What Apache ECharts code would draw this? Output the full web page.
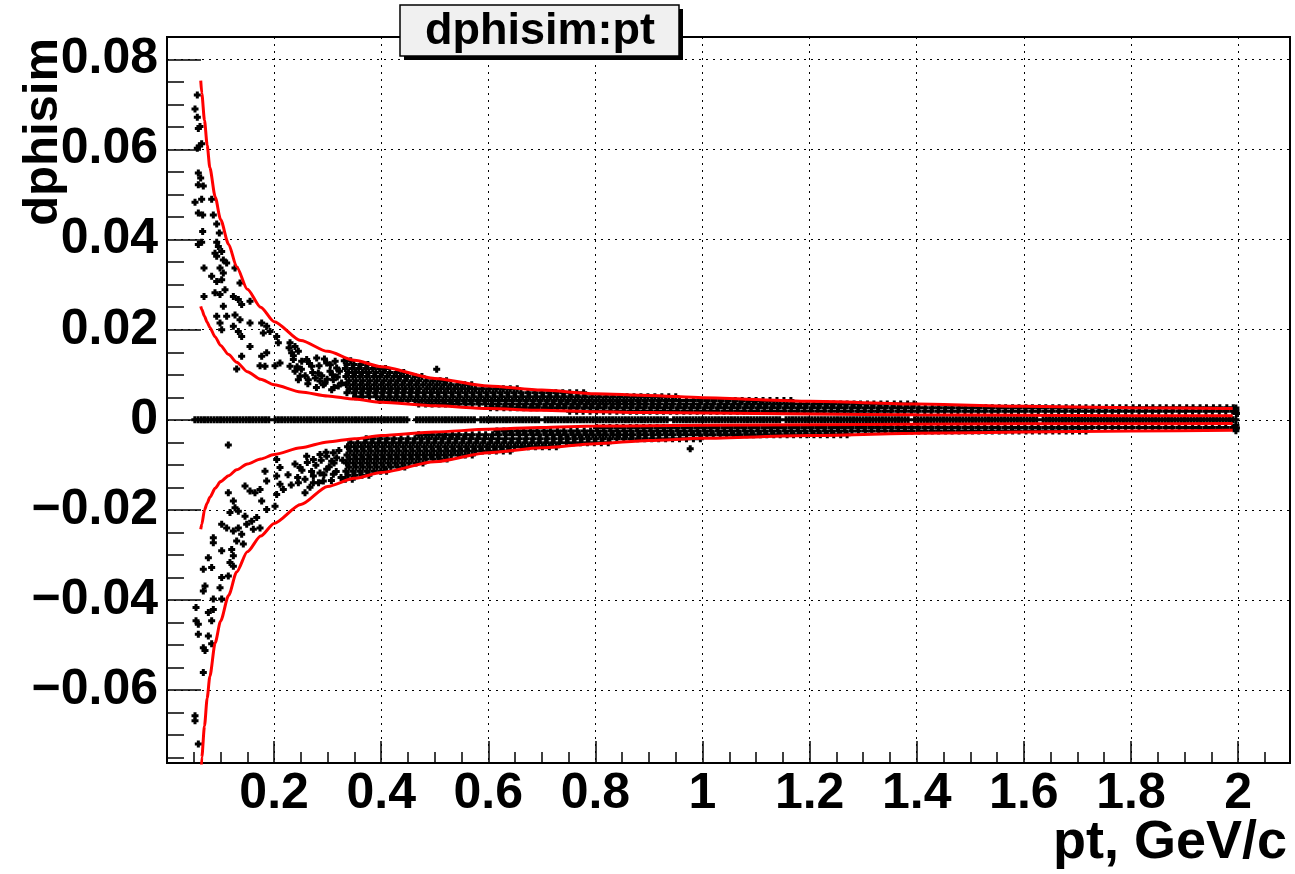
<!DOCTYPE html>
<html>
<head>
<meta charset="utf-8">
<script src="https://cdn.jsdelivr.net/npm/echarts@6/dist/echarts.min.js"></script>
<style>
html, body { margin: 0; padding: 0; background: #fff; }
#chart { width: 1295px; height: 874px; }
</style>
</head>
<body>
<div id="chart"></div>
<script>
// dphisim vs pt scatter with the four selection curves

// pt positions where the selection curves are sampled
const curvePt = [0.063, 0.065, 0.07, 0.075, 0.08, 0.09, 0.10, 0.115, 0.13, 0.15, 0.175, 0.2, 0.25, 0.3, 0.35, 0.4, 0.5, 0.6, 0.7, 0.8, 0.9, 1.0, 1.2, 1.4, 1.6, 1.8, 1.99];
const upperOuter = [0.0753, 0.0725, 0.0665, 0.0610, 0.0560, 0.0495, 0.0445, 0.0390, 0.0340, 0.0290, 0.0250, 0.0218, 0.0176, 0.0152, 0.0132, 0.0118, 0.0092, 0.0075, 0.0066, 0.0058, 0.0054, 0.0049, 0.0041, 0.0035, 0.0030, 0.0027, 0.0025];
const upperInner = [0.0252, 0.0245, 0.0230, 0.0217, 0.0205, 0.0184, 0.0165, 0.0145, 0.0128, 0.0107, 0.0090, 0.0078, 0.0062, 0.0053, 0.0046, 0.0039, 0.0031, 0.0025, 0.0021, 0.0018, 0.0016, 0.0015, 0.0013, 0.0011, 0.0010, 0.0009, 0.0009];
const lowerInner = [-0.0243, -0.0232, -0.0200, -0.0185, -0.0172, -0.0152, -0.0137, -0.0124, -0.0111, -0.0098, -0.0087, -0.0077, -0.0062, -0.0049, -0.0042, -0.0035, -0.0027, -0.0021, -0.0017, -0.0014, -0.0013, -0.0012, -0.0011, -0.0010, -0.0009, -0.0009, -0.0008];
const lowerOuter = [-0.0800, -0.0749, -0.0680, -0.0618, -0.0570, -0.0495, -0.0447, -0.0390, -0.0338, -0.0293, -0.0258, -0.0230, -0.0188, -0.0148, -0.0130, -0.0117, -0.0093, -0.0073, -0.0062, -0.0053, -0.0046, -0.0041, -0.0035, -0.0030, -0.0027, -0.0025, -0.0023];

// tracks with dphisim = 0
const zeroPt = [
  0.052,0.058,0.064,0.070,0.076,0.082,0.088,0.094,0.100,0.106,
  0.112,0.118,0.124,0.130,0.136,0.142,0.148,0.154,0.160,0.166,
  0.172,0.178,0.184,0.190,0.202,0.208,0.214,0.220,0.226,
  0.232,0.238,0.244,0.250,0.256,0.262,0.268,0.274,0.280,0.286,
  0.292,0.298,0.304,0.310,0.316,0.322,0.328,0.334,0.340,0.346,
  0.352,0.358,0.364,0.370,0.376,0.382,0.388,0.394,0.400,0.406,
  0.412,0.418,0.424,0.430,0.436,0.442,0.448,0.466,
  0.472,0.478,0.484,0.490,0.496,0.502,0.508,0.514,0.520,0.526,
  0.532,0.538,0.544,0.550,0.556,0.562,0.568,0.574,0.586,
  0.592,0.598,0.604,0.610,0.616,0.622,0.628,0.634,0.640,0.646,
  0.652,0.658,0.664,0.670,0.676,0.682,0.688,0.694,0.706,
  0.712,0.718,0.724,0.730,0.736,0.742,0.748,0.754,0.760,0.766,
  0.772,0.778,0.784,0.790,0.796,0.802,0.808,0.814,0.820,0.826,
  0.832,0.838,0.844,0.850,0.856,0.862,0.868,0.874,0.880,0.886,
  0.892,0.898,0.904,0.910,0.916,0.922,0.928,0.934,0.946,
  0.952,0.958,0.964,0.970,0.976,0.982,0.988,0.994,1.000,1.006,
  1.012,1.018,1.024,1.030,1.036,1.042,1.048,1.054,1.060,1.066,
  1.072,1.078,1.084,1.090,1.096,1.102,1.108,1.114,1.120,1.126,
  1.132,1.138,1.144,1.156,1.162,1.168,1.174,1.180,1.186,
  1.192,1.198,1.204,1.210,1.216,1.222,1.228,1.234,1.240,1.246,
  1.252,1.258,1.264,1.270,1.276,1.282,1.288,1.294,1.300,1.306,
  1.312,1.318,1.324,1.330,1.336,1.342,1.348,1.354,1.360,1.366,
  1.372,1.378,1.384,1.396,1.402,1.408,1.414,1.420,1.426,
  1.432,1.438,1.444,1.450,1.456,1.462,1.468,1.474,1.480,1.486,
  1.492,1.498,1.504,1.510,1.516,1.522,1.528,1.534,1.540,1.546,
  1.552,1.558,1.564,1.570,1.576,1.582,1.588,1.594,1.600,1.606,
  1.612,1.618,1.624,1.636,1.642,1.648,1.654,1.660,1.666,
  1.672,1.678,1.684,1.690,1.696,1.702,1.708,1.714,1.720,1.726,
  1.732,1.738,1.744,1.750,1.756,1.762,1.768,1.774,1.780,1.786,
  1.792,1.798,1.804,1.810,1.816,1.822,1.828,1.834,1.840,1.846,
  1.852,1.858,1.864,1.870,1.876,1.882,1.888,1.894,1.900,1.906,
  1.912,1.918,1.924,1.930,1.936,1.942,1.948,1.954,1.960,1.966,
  1.972,1.978,1.984,1.990,1.996
];

// low-pt tracks above zero [pt, dphisim]
const upperLowPt = [[0.0566,0.0721],[0.0523,0.0690],[0.0566,0.0672],[0.0585,0.0647],[0.0616,0.0651],[0.0566,0.0603],[0.0604,0.0608],[0.0647,0.0613],[0.0585,0.0548],[0.0629,0.0537],[0.0678,0.0519],[0.0585,0.0522],[0.0523,0.0483],[0.0647,0.0490],[0.0834,0.0490],[0.0585,0.0459],[0.0666,0.0455],[0.0865,0.0455],[0.0928,0.0435],[0.0666,0.0418],[0.0977,0.0415],[0.0585,0.0389],[0.0647,0.0394],[0.0928,0.0394],[0.0959,0.0385],[0.0896,0.0370],[0.1021,0.0374],[0.0928,0.0363],[0.1052,0.0355],[0.1114,0.0348],[0.0691,0.0337],[0.0990,0.0337],[0.0834,0.0319],[0.1052,0.0326],[0.1021,0.0311],[0.0928,0.0307],[0.1270,0.0337],[0.1363,0.0304],[0.0896,0.0282],[0.0990,0.0278],[0.1083,0.0289],[0.0691,0.0274],[0.1239,0.0274],[0.1332,0.0267],[0.1394,0.0256],[0.1550,0.0263],[0.1052,0.0252],[0.0928,0.0230],[0.1114,0.0230],[0.0990,0.0215],[0.1270,0.0233],[0.1363,0.0222],[0.1550,0.0215],[0.1021,0.0200],[0.1239,0.0208],[0.1332,0.0196],[0.1394,0.0185],[0.1768,0.0215],[0.1861,0.0208],[0.1799,0.0193],[0.1923,0.0196],[0.2048,0.0185],[0.2079,0.0171],[0.1550,0.0163],[0.1394,0.0141],[0.1301,0.0113],[0.1768,0.0141],[0.1861,0.0149],[0.1737,0.0120],[0.1830,0.0119],[0.2017,0.0120],[0.2110,0.0126],[0.2297,0.0171],[0.2390,0.0163],[0.2328,0.0149],[0.2359,0.0134],[0.2297,0.0119],[0.2390,0.0108],[0.2484,0.0097],[0.2453,0.0089],[0.2608,0.0134],[0.2702,0.0119],[0.2795,0.0137],[0.2826,0.0104],[0.2639,0.0089],[0.2857,0.0086],[0.2982,0.0126],[0.3044,0.0108],[0.2919,0.0078],[0.3106,0.0089],[0.3075,0.0067],[0.3168,0.0115],[0.3199,0.0075],[0.2453,0.0152],[0.2515,0.0130],[0.228,0.0160],[0.236,0.0142],[0.243,0.0118],[0.251,0.0112],[0.258,0.0098],[0.266,0.0125],[0.272,0.0105],[0.277,0.0093],[0.284,0.0120],[0.289,0.0098],[0.294,0.0135],[0.299,0.0090],[0.305,0.0122],[0.309,0.0100],[0.314,0.0130],[0.318,0.0095],[0.322,0.0108],[0.326,0.0082],[0.312,0.0072],[0.295,0.0081],[0.279,0.0072],[0.263,0.0080]];

// low-pt tracks below zero [pt, dphisim]
const lowerLowPt = [[0.1145,-0.0162],[0.1239,-0.0180],[0.1270,-0.0195],[0.1176,-0.0206],[0.1332,-0.0203],[0.1457,-0.0147],[0.1550,-0.0158],[0.1643,-0.0162],[0.1737,-0.0155],[0.1861,-0.0136],[0.1830,-0.0114],[0.2048,-0.0088],[0.2110,-0.0106],[0.2048,-0.0125],[0.2110,-0.0143],[0.2048,-0.0166],[0.2172,-0.0155],[0.2017,-0.0192],[0.1861,-0.0199],[0.1768,-0.0180],[0.1675,-0.0217],[0.1581,-0.0225],[0.1488,-0.0232],[0.1457,-0.0214],[0.1612,-0.0243],[0.1737,-0.0240],[0.1394,-0.0254],[0.1332,-0.0240],[0.1021,-0.0232],[0.1114,-0.0240],[0.1239,-0.0247],[0.1301,-0.0269],[0.1425,-0.0276],[0.0865,-0.0262],[0.0865,-0.0273],[0.1021,-0.0291],[0.1208,-0.0288],[0.1239,-0.0302],[0.1176,-0.0317],[0.1239,-0.0325],[0.0772,-0.0306],[0.0834,-0.0328],[0.0678,-0.0332],[0.1021,-0.0350],[0.1145,-0.0347],[0.0710,-0.0369],[0.0678,-0.0380],[0.0990,-0.0373],[0.0865,-0.0398],[0.1021,-0.0398],[0.0542,-0.0417],[0.0772,-0.0428],[0.0865,-0.0421],[0.0542,-0.0446],[0.0585,-0.0454],[0.0834,-0.0446],[0.0585,-0.0476],[0.0772,-0.0480],[0.0834,-0.0497],[0.0678,-0.0506],[0.0710,-0.0512],[0.0678,-0.0561],[0.0523,-0.0657],[0.0523,-0.0668],[0.0585,-0.0720],[0.2484,-0.0106],[0.2608,-0.0081],[0.2733,-0.0088],[0.2857,-0.0077],[0.2982,-0.0081],[0.3075,-0.0092],[0.2577,-0.0132],[0.2733,-0.0125],[0.2857,-0.0118],[0.2982,-0.0110],[0.3106,-0.0121],[0.2453,-0.0140],[0.2577,-0.0162],[0.2733,-0.0140],[0.2919,-0.0136],[0.3168,-0.0084],[0.3106,-0.0073],[0.226,-0.0122],[0.232,-0.0145],[0.239,-0.0098],[0.244,-0.0128],[0.252,-0.0112],[0.262,-0.0095],[0.267,-0.0150],[0.270,-0.0115],[0.278,-0.0101],[0.283,-0.0140],[0.288,-0.0090],[0.293,-0.0122],[0.297,-0.0072],[0.303,-0.0104],[0.307,-0.0135],[0.312,-0.0096],[0.316,-0.0115],[0.321,-0.0068],[0.325,-0.0128],[0.328,-0.0090]];

// isolated tracks and the pile-up at the pt = 2 edge
const strayPoints = [[0.1145,-0.0056],[0.5036,0.0112],[0.977,-0.0064],[1.996,0.0026],[1.996,0.0020],[1.997,0.0014],[1.996,-0.0012],[1.997,-0.0018],[1.996,-0.0024]];

// dense band above zero, one dphisim level per row
const upperRowDphi = [0.0131, 0.0123, 0.0114, 0.0105, 0.0096, 0.0087, 0.0078, 0.0069, 0.0060, 0.0051, 0.0043, 0.0035, 0.0027, 0.0019];
const upperRowPt = [
  [0.331,0.343],
  [0.336,0.349,0.362,0.375],
  [0.333,0.346,0.358,0.371,0.384,0.397,0.408],
  [0.339,0.352,0.365,0.377,0.390,0.403,0.416,0.429,0.442],
  [0.334,0.347,0.360,0.373,0.386,0.398,0.411,0.424,0.436,0.449,0.463,0.476],
  [0.340,0.353,0.366,0.379,0.392,0.405,0.418,0.431,0.444,0.457,0.470,0.484,0.497,0.510,0.522],
  [0.335,0.348,0.361,0.374,0.387,0.400,0.413,0.426,0.439,0.452,0.465,0.478,0.491,0.504,0.517,0.530,0.543,0.556,0.569],
  [0.341,0.354,0.367,0.380,0.393,0.406,0.419,0.432,0.445,0.458,0.471,0.485,0.498,0.511,0.524,0.537,0.550,0.563,0.576,0.589,0.602,0.615,0.628,0.641,0.654],
  [0.336,0.349,0.362,0.375,0.388,0.401,0.414,0.427,0.440,0.453,0.466,0.479,0.492,0.505,0.518,0.531,0.544,0.557,0.570,0.583,0.596,0.609,0.622,0.635,0.648,0.661,0.674,0.687,0.700,0.713,0.726,0.739,0.752,0.765,0.778],
  [0.352,0.365,0.378,0.391,0.404,0.417,0.430,0.443,0.456,0.469,0.482,0.495,0.508,0.521,0.534,0.547,0.560,0.573,0.586,0.599,0.612,0.625,0.638,0.651,0.664,0.677,0.690,0.703,0.716,0.729,0.742,0.755,0.768,0.781,0.794,0.807,0.820,0.833,0.846,0.859,0.872,0.885,0.898,0.911,0.924,0.937,0.950],
  [0.398,0.411,0.424,0.437,0.450,0.463,0.476,0.489,0.502,0.515,0.528,0.541,0.554,0.567,0.580,0.593,0.606,0.619,0.632,0.645,0.658,0.671,0.684,0.697,0.710,0.723,0.736,0.749,0.762,0.775,0.788,0.801,0.814,0.827,0.840,0.853,0.866,0.879,0.892,0.905,0.918,0.931,0.944,0.957,0.970,0.983,0.996,1.009,1.022,1.035,1.048,1.061,1.074,1.087,1.100,1.113,1.126,1.139,1.152,1.165],
  [0.470,0.483,0.495,0.508,0.520,0.533,0.545,0.558,0.570,0.583,0.595,0.608,0.620,0.633,0.645,0.658,0.670,0.683,0.695,0.708,0.720,0.733,0.745,0.758,0.770,0.783,0.795,0.808,0.820,0.833,0.845,0.858,0.870,0.883,0.895,0.908,0.920,0.933,0.945,0.958,0.970,0.983,0.995,1.008,1.020,1.033,1.045,1.058,1.070,1.083,1.095,1.108,1.120,1.133,1.145,1.158,1.170,1.183,1.195,1.208,1.220,1.233,1.245,1.258,1.270,1.283,1.295,1.308,1.320,1.333,1.345,1.358,1.370,1.383,1.395],
  [0.604,0.616,0.629,0.641,0.654,0.666,0.679,0.691,0.704,0.716,0.729,0.741,0.754,0.766,0.779,0.791,0.804,0.816,0.829,0.841,0.854,0.866,0.879,0.891,0.904,0.916,0.929,0.941,0.954,0.966,0.979,0.991,1.004,1.016,1.029,1.041,1.054,1.066,1.079,1.091,1.104,1.116,1.129,1.141,1.154,1.166,1.179,1.191,1.204,1.216,1.229,1.241,1.254,1.266,1.279,1.291,1.304,1.316,1.329,1.341,1.354,1.366,1.379,1.391,1.404,1.416,1.429,1.441,1.454,1.466,1.479,1.491,1.504,1.516,1.529,1.541,1.554,1.566,1.579,1.591,1.604,1.616,1.629,1.641,1.654,1.666,1.679,1.691,1.704,1.716,1.729,1.741,1.754,1.766,1.779,1.791,1.804,1.816,1.829,1.841,1.854,1.866,1.879,1.891,1.904,1.916,1.929,1.941,1.954,1.966,1.979,1.991],
  [0.752,0.765,0.777,0.790,0.802,0.815,0.827,0.840,0.852,0.865,0.877,0.890,0.902,0.915,0.927,0.940,0.952,0.965,0.977,0.990,1.002,1.015,1.027,1.040,1.052,1.065,1.077,1.090,1.102,1.115,1.127,1.140,1.152,1.165,1.177,1.190,1.202,1.215,1.227,1.240,1.252,1.265,1.277,1.290,1.302,1.315,1.327,1.340,1.352,1.365,1.377,1.390,1.402,1.415,1.427,1.440,1.452,1.465,1.477,1.490,1.502,1.515,1.527,1.540,1.552,1.565,1.577,1.590,1.602,1.615,1.627,1.640,1.652,1.665,1.677,1.690,1.702,1.715,1.727,1.740,1.752,1.765,1.777,1.790,1.802,1.815,1.827,1.840,1.852,1.865,1.877,1.890,1.902,1.915,1.927,1.940,1.952,1.965,1.977,1.990]
];

// dense band below zero, one dphisim level per row
const lowerRowDphi = [-0.0132, -0.0123, -0.0114, -0.0105, -0.0096, -0.0087, -0.0078, -0.0069, -0.0060, -0.0051, -0.0042, -0.0033, -0.0025, -0.0017];
const lowerRowPt = [
  [0.333,0.346],
  [0.338,0.351,0.364,0.377],
  [0.334,0.347,0.360,0.373,0.386,0.399,0.410],
  [0.340,0.353,0.366,0.379,0.392,0.405,0.418,0.431,0.444],
  [0.335,0.348,0.361,0.374,0.387,0.400,0.413,0.426,0.439,0.452,0.465,0.478],
  [0.341,0.354,0.367,0.380,0.393,0.406,0.419,0.432,0.445,0.458,0.471,0.484,0.497,0.510,0.523],
  [0.336,0.349,0.362,0.375,0.388,0.401,0.414,0.427,0.440,0.453,0.466,0.479,0.492,0.505,0.518,0.531,0.544,0.557,0.570],
  [0.342,0.355,0.368,0.381,0.394,0.407,0.420,0.433,0.446,0.459,0.472,0.485,0.498,0.511,0.524,0.537,0.550,0.563,0.576,0.589,0.602,0.615,0.628,0.641],
  [0.337,0.350,0.363,0.376,0.389,0.402,0.415,0.428,0.441,0.454,0.467,0.480,0.493,0.506,0.519,0.532,0.545,0.558,0.571,0.584,0.597,0.610,0.623,0.636,0.649,0.662,0.675,0.688,0.701,0.714,0.727],
  [0.343,0.356,0.369,0.382,0.395,0.408,0.421,0.434,0.447,0.460,0.473,0.486,0.499,0.512,0.525,0.538,0.551,0.564,0.577,0.590,0.603,0.616,0.629,0.642,0.655,0.668,0.681,0.694,0.707,0.720,0.733,0.746,0.759,0.772,0.785,0.798,0.811,0.824],
  [0.372,0.385,0.398,0.411,0.424,0.437,0.450,0.463,0.476,0.489,0.502,0.515,0.528,0.541,0.554,0.567,0.580,0.593,0.606,0.619,0.632,0.645,0.658,0.671,0.684,0.697,0.710,0.723,0.736,0.749,0.762,0.775,0.788,0.801,0.814,0.827,0.840,0.853,0.866,0.879,0.892,0.905,0.918,0.931,0.944,0.957,0.970,0.983,0.996],
  [0.470,0.483,0.495,0.508,0.520,0.533,0.545,0.558,0.570,0.583,0.595,0.608,0.620,0.633,0.645,0.658,0.670,0.683,0.695,0.708,0.720,0.733,0.745,0.758,0.770,0.783,0.795,0.808,0.820,0.833,0.845,0.858,0.870,0.883,0.895,0.908,0.920,0.933,0.945,0.958,0.970,0.983,0.995,1.008,1.020,1.033,1.045,1.058,1.070,1.083,1.095,1.108,1.120,1.133,1.145,1.158,1.170,1.183,1.195,1.208,1.220,1.233,1.245,1.258,1.270],
  [0.616,0.629,0.641,0.654,0.666,0.679,0.691,0.704,0.716,0.729,0.741,0.754,0.766,0.779,0.791,0.804,0.816,0.829,0.841,0.854,0.866,0.879,0.891,0.904,0.916,0.929,0.941,0.954,0.966,0.979,0.991,1.004,1.016,1.029,1.041,1.054,1.066,1.079,1.091,1.104,1.116,1.129,1.141,1.154,1.166,1.179,1.191,1.204,1.216,1.229,1.241,1.254,1.266,1.279,1.291,1.304,1.316,1.329,1.341,1.354,1.366,1.379,1.391,1.404,1.416,1.429,1.441,1.454,1.466,1.479,1.491,1.504,1.516,1.529,1.541,1.554,1.566,1.579,1.591,1.604,1.616,1.629,1.641,1.654,1.666,1.679,1.691,1.704,1.716],
  [0.802,0.815,0.827,0.840,0.852,0.865,0.877,0.890,0.902,0.915,0.927,0.940,0.952,0.965,0.977,0.990,1.002,1.015,1.027,1.040,1.052,1.065,1.077,1.090,1.102,1.115,1.127,1.140,1.152,1.165,1.177,1.190,1.202,1.215,1.227,1.240,1.252,1.265,1.277,1.290,1.302,1.315,1.327,1.340,1.352,1.365,1.377,1.390,1.402,1.415,1.427,1.440,1.452,1.465,1.477,1.490,1.502,1.515,1.527,1.540,1.552,1.565,1.577,1.590,1.602,1.615,1.627,1.640,1.652,1.665,1.677,1.690,1.702,1.715,1.727,1.740,1.752,1.765,1.777,1.790,1.802,1.815,1.827,1.840,1.852,1.865,1.877,1.890,1.902,1.915,1.927,1.940,1.952,1.965,1.977,1.990]
];

// axis ranges
const ptRange = [0, 2.097];
const dphiRange = [-0.0762, 0.0850];

const FONT = '"Liberation Sans", Arial, Helvetica, sans-serif';
const PLUS = 'path://M0,2H7V5H0Z M2,0H5V7H2Z';

const zeroData = zeroPt.map(p => [p, 0]);
const bandData = [];
upperRowDphi.forEach((d, i) => upperRowPt[i].forEach(p => bandData.push([p, d])));
lowerRowDphi.forEach((d, i) => lowerRowPt[i].forEach(p => bandData.push([p, d])));
const sparseData = upperLowPt.concat(lowerLowPt, strayPoints);

const markerSeries = data => ({
  type: 'scatter', data: data, symbol: PLUS, symbolSize: 7,
  large: false, progressive: 0, silent: true, z: 2,
  itemStyle: { color: '#000', opacity: 1, borderWidth: 0 }
});

const curveSeries = vals => ({
  type: 'line',
  data: curvePt.map((p, i) => [p, vals[i]]),
  symbol: 'none',
  showSymbol: false,
  smooth: 0.25,
  smoothMonotone: 'x',
  clip: true,
  silent: true,
  z: 3,
  lineStyle: { color: '#ff0000', width: 3, opacity: 1 }
});

const near = (v, step) => Math.abs(v / step - Math.round(v / step)) < 1e-6;

const chart = echarts.init(document.getElementById('chart'), null, { renderer: 'canvas' });
chart.setOption({
  animation: false,
  backgroundColor: '#ffffff',
  grid: {
    left: 167, top: 37, right: 5, bottom: 111,
    show: true, borderColor: '#000', borderWidth: 2, backgroundColor: '#fff'
  },
  xAxis: {
    type: 'value', min: ptRange[0], max: ptRange[1], interval: 0.2,
    axisLine: { show: true, onZero: false, lineStyle: { color: '#000', width: 2 } },
    axisTick: { show: true, inside: true, length: 22, lineStyle: { color: '#000', width: 1.5 } },
    minorTick: { show: true, splitNumber: 4, length: 11, lineStyle: { color: '#000', width: 1.5 } },
    splitLine: { show: true, lineStyle: { color: '#000', width: 1, type: [2, 5] } },
    minorSplitLine: { show: false },
    axisLabel: {
      show: true, margin: 6, color: '#000', fontFamily: FONT, fontWeight: 'bold', fontSize: 50,
      formatter: v => (v > 0.1 && near(v, 0.2)) ? String(Math.round(v * 10) / 10) : ''
    }
  },
  yAxis: {
    type: 'value', min: dphiRange[0], max: dphiRange[1], splitNumber: 8, minInterval: 0.02, maxInterval: 0.02,
    axisLine: { show: true, onZero: false, lineStyle: { color: '#000', width: 2 } },
    axisTick: { show: true, inside: true, length: 34, lineStyle: { color: '#000', width: 1.5 } },
    minorTick: { show: true, splitNumber: 4, length: 17, lineStyle: { color: '#000', width: 1.5 } },
    splitLine: { show: true, lineStyle: { color: '#000', width: 1, type: [2, 5] } },
    minorSplitLine: { show: false },
    axisLabel: {
      show: true, margin: 9, color: '#000', fontFamily: FONT, fontWeight: 'bold', fontSize: 50,
      formatter: v => {
        if (!near(v, 0.02)) return '';
        if (Math.abs(v) < 1e-9) return '0';
        return (v < 0 ? '\u2212' : '') + Math.abs(v).toFixed(2);
      }
    }
  },
  series: [
    markerSeries(bandData),
    markerSeries(sparseData),
    markerSeries(zeroData),
    curveSeries(upperOuter),
    curveSeries(upperInner),
    curveSeries(lowerInner),
    curveSeries(lowerOuter)
  ],
  graphic: [
    { type: 'rect', z: 100, shape: { x: 404, y: 9, width: 279, height: 51 }, style: { fill: '#000' } },
    { type: 'rect', z: 101, shape: { x: 400, y: 5, width: 279, height: 51 }, style: { fill: '#f0f0f0', stroke: '#000', lineWidth: 1.5 } },
    { type: 'text', z: 102, x: 540, y: 32, style: { text: 'dphisim:pt', fontFamily: FONT, fontWeight: 'bold', fontSize: 45, fill: '#000', align: 'center', verticalAlign: 'middle' } },
    { type: 'text', z: 102, x: 1287, y: 843, style: { text: 'pt, GeV/c', fontFamily: FONT, fontWeight: 'bold', fontSize: 54, fill: '#000', align: 'right', verticalAlign: 'middle' } },
    { type: 'text', z: 102, x: 43, y: 38, rotation: Math.PI / 2, style: { text: 'dphisim', fontFamily: FONT, fontWeight: 'bold', fontSize: 49, fill: '#000', align: 'right', verticalAlign: 'middle' } }
  ]
});
</script>
</body>
</html>
